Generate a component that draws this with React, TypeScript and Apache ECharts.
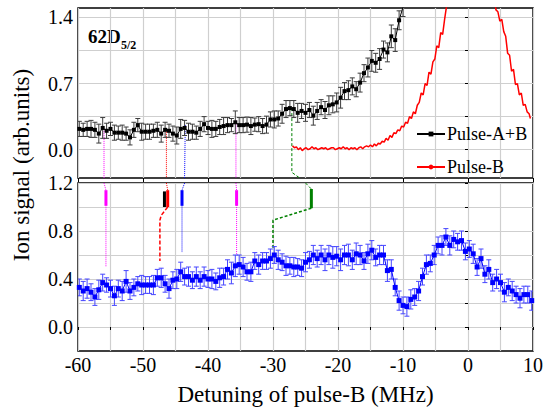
import React, { useEffect, useRef } from 'react';
import * as echarts from 'echarts';

const FONT = 'Liberation Serif';

// shared detuning grid (MHz) of the measured points
const X_START = -59.8;
const X_STEP = 0.6;

// top panel: Pulse-A+B (black)
const pulseABValues = [
  0.22, 0.21, 0.22, 0.22, 0.21, 0.17, 0.23, 0.20, 0.22, 0.18,
  0.18, 0.18, 0.17, 0.13, 0.21, 0.26, 0.19, 0.19, 0.19, 0.20,
  0.21, 0.17, 0.21, 0.20, 0.17, 0.15, 0.22, 0.23, 0.19, 0.19,
  0.18, 0.22, 0.27, 0.23, 0.22, 0.22, 0.24, 0.25, 0.26, 0.26,
  0.29, 0.26, 0.26,
  0.265, 0.25, 0.265, 0.27, 0.25, 0.265, 0.32, 0.32, 0.33, 0.38,
  0.43, 0.44, 0.43, 0.39, 0.41, 0.39, 0.42, 0.36, 0.41, 0.45,
  0.42, 0.47, 0.48, 0.50, 0.55, 0.62, 0.63, 0.67, 0.64, 0.71,
  0.81, 0.87, 0.94, 0.92, 0.96, 1.06, 1.03, 1.20, 1.16, 1.37, 1.51,
];
const pulseABErrors = [
  0.08, 0.07, 0.08, 0.09, 0.08, 0.10, 0.11, 0.08, 0.07, 0.08,
  0.07, 0.08, 0.07, 0.08, 0.08, 0.07, 0.09, 0.08, 0.08, 0.07,
  0.08, 0.09, 0.08, 0.07, 0.08, 0.09, 0.10, 0.08, 0.09, 0.08,
  0.07, 0.08, 0.08, 0.07, 0.09, 0.08, 0.08, 0.09, 0.08, 0.07,
  0.12, 0.08, 0.08,
  0.08, 0.09, 0.07, 0.08, 0.08, 0.09, 0.08, 0.09, 0.08, 0.10,
  0.09, 0.08, 0.09, 0.10, 0.08, 0.09, 0.08, 0.10, 0.09, 0.08,
  0.09, 0.10, 0.09, 0.10, 0.11, 0.09, 0.10, 0.09, 0.08, 0.10,
  0.09, 0.10, 0.11, 0.10, 0.11, 0.09, 0.10, 0.12, 0.12, 0.10, 0.10,
];

// top panel: Pulse-B (red)
const pulseBX = [
  -27.0, -26.7, -26.4, -26.1, -25.8, -25.5, -25.2, -24.9, -24.6, -24.3,
  -24.0, -23.7, -23.4, -23.1, -22.8, -22.5, -22.2, -21.9, -21.6, -21.3,
  -21.0, -20.7, -20.4, -20.1, -19.8, -19.5, -19.2, -18.9, -18.6, -18.3,
  -18.0, -17.7, -17.4, -17.1, -16.8, -16.5, -16.2, -15.9, -15.6, -15.3,
  -15.0, -14.7, -14.4, -14.1, -13.8, -13.5, -13.2, -12.9, -12.6, -12.3,
  -12.0, -11.7, -11.4, -11.1, -10.8, -10.5, -10.2, -9.9, -9.6, -9.3,
  -9.0, -8.7, -8.4, -8.1, -7.8, -7.5, -7.2, -6.9, -6.6, -6.3,
  -6.0, -5.7, -5.4, -5.1, -4.8, -4.5, -4.2, -3.9, -3.6, -3.3,
  -3.0, -2.0, 0.5, 3.0, 4.0, 4.3, 4.6, 4.9, 5.2, 5.5,
  5.8, 6.1, 6.4, 6.7, 7.0, 7.3, 7.6, 7.9, 8.2, 8.5,
  8.8, 9.1, 9.4, 9.6,
];
const pulseBY = [
  0.04, 0.02, 0.03, 0.00, 0.02, -0.01, 0.01, 0.02, 0.00, 0.01,
  0.03, 0.01, 0.02, 0.00, 0.01, 0.02, 0.01, 0.02, 0.00, 0.01,
  0.02, 0.02, 0.00, 0.01, 0.02, 0.01, 0.03, 0.01, 0.02, 0.00,
  0.02, 0.01, 0.02, 0.00, 0.02, 0.03, 0.01, 0.03, 0.04, 0.03,
  0.05, 0.03, 0.06, 0.04, 0.07, 0.06, 0.09, 0.08, 0.12, 0.10,
  0.15, 0.13, 0.18, 0.17, 0.21, 0.20, 0.25, 0.24, 0.29, 0.28,
  0.35, 0.33, 0.40, 0.38, 0.47, 0.50, 0.60, 0.58, 0.70, 0.68,
  0.82, 0.80, 0.93, 0.96, 1.10, 1.08, 1.24, 1.22, 1.38, 1.52,
  1.62, 2.20, 3.00, 2.20, 1.62, 1.48, 1.46, 1.36, 1.38, 1.25,
  1.20, 1.02, 1.00, 0.83, 0.85, 0.69, 0.70, 0.58, 0.60, 0.47,
  0.48, 0.40, 0.38, 0.33,
];

// bottom panel: ion signal (blue)
const ionValues = [
  0.33, 0.30, 0.32, 0.29, 0.25, 0.31, 0.37, 0.35, 0.32, 0.26,
  0.32, 0.30, 0.38, 0.30, 0.33, 0.36, 0.35, 0.35, 0.35, 0.35,
  0.41, 0.41, 0.36, 0.32, 0.39, 0.40, 0.46, 0.42, 0.42, 0.39,
  0.42, 0.39, 0.42, 0.40, 0.40, 0.38, 0.41, 0.42, 0.48, 0.45,
  0.51,
  0.52, 0.50, 0.46, 0.46, 0.55, 0.52, 0.55, 0.55, 0.57, 0.60,
  0.56, 0.54, 0.51, 0.51, 0.50, 0.50, 0.49, 0.54, 0.56, 0.60,
  0.57, 0.60, 0.56, 0.60, 0.58, 0.59, 0.56, 0.60, 0.60, 0.56,
  0.61, 0.60, 0.55, 0.61, 0.64, 0.58, 0.60, 0.60, 0.47,
  0.48, 0.33, 0.22, 0.18, 0.17, 0.23, 0.25, 0.30, 0.42, 0.52,
  0.53, 0.60, 0.68, 0.68, 0.75, 0.68, 0.73, 0.71, 0.72, 0.63,
  0.65, 0.61, 0.50, 0.57, 0.44, 0.48, 0.37, 0.40, 0.37, 0.29,
  0.33, 0.30, 0.27, 0.24, 0.27, 0.27, 0.22,
];
const ionErrors = [
  0.07, 0.08, 0.08, 0.07, 0.07, 0.08, 0.07, 0.06, 0.07, 0.08,
  0.07, 0.08, 0.09, 0.07, 0.07, 0.06, 0.08, 0.07, 0.07, 0.08,
  0.07, 0.08, 0.07, 0.08, 0.07, 0.08, 0.08, 0.07, 0.08, 0.07,
  0.08, 0.07, 0.08, 0.07, 0.08, 0.07, 0.08, 0.07, 0.08, 0.09,
  0.09, 0.08, 0.08, 0.07, 0.08, 0.07, 0.08, 0.07, 0.07, 0.08,
  0.07, 0.08, 0.07, 0.08, 0.07, 0.08, 0.07, 0.07, 0.08, 0.07,
  0.08, 0.07, 0.08, 0.09, 0.08, 0.09, 0.08, 0.09, 0.08, 0.09,
  0.08, 0.09, 0.08, 0.07, 0.08, 0.08, 0.07, 0.08, 0.08, 0.09,
  0.08, 0.07, 0.08, 0.07, 0.08, 0.08, 0.07, 0.08, 0.07, 0.08,
  0.07, 0.08, 0.07, 0.08, 0.07, 0.08, 0.07, 0.07, 0.08, 0.07,
  0.07, 0.08, 0.07, 0.08, 0.07, 0.08, 0.07, 0.08, 0.07, 0.08,
  0.07, 0.08, 0.07, 0.08, 0.07, 0.07, 0.08,
];

// axis ticks
const xTicks = [-60, -50, -40, -30, -20, -10, 0, 10];
const topYTicks = [0, 0.35, 0.7, 1.05, 1.4];
const topYLabels = [0, 0.7, 1.4];
const bottomYTicks = [0, 0.2, 0.4, 0.6, 0.8, 1.0, 1.2];
const bottomYLabels = [0, 0.4, 0.8, 1.2];

// annotation guides (data coordinates): top panel
const guideMagentaATop = [[-56.0, 0.22], [-56.0, -0.3]];
const guideRedTop = [[-46.4, 0.21], [-46.4, -0.3]];
const guideBlueTop = [[-43.5, 0.26], [-43.6, -0.3]];
const guideMagentaBTop = [[-35.7, 0.31], [-35.7, -0.3]];
const guideGreenTop = [[-27.1, 0.44], [-27.1, -0.24], [-25.9, -0.3]];
// bottom panel
const guideMagentaABottom = [[-56.0, 1.2], [-55.7, 1.14], [-55.7, 0.5]];
const guideRedBottom = [[-46.4, 1.2], [-46.2, 1.14]];
const guideRedBottomLow = [[-46.2, 1.0], [-47.2, 0.93], [-47.4, 0.89], [-47.4, 0.55]];
const guideBlueBottom = [[-43.6, 1.2], [-44.0, 1.14], [-44.0, 0.62]];
const guideMagentaBBottom = [[-35.7, 1.2], [-35.6, 1.14], [-35.6, 0.61]];
const guideGreenBottom = [[-25.0, 1.2], [-24.1, 1.15]];
const guideGreenBottomLow = [[-24.1, 0.99], [-30.0, 0.89], [-30.0, 0.66]];
// short thick bars
const barMagentaA = [[-55.7, 1.14], [-55.7, 1.01]];
const barBlack = [[-46.7, 1.13], [-46.7, 1.0]];
const barRed = [[-46.2, 1.14], [-46.2, 1.0]];
const barBlue = [[-44.0, 1.14], [-44.0, 1.01]];
const barMagentaB = [[-35.6, 1.14], [-35.6, 1.01]];
const barGreen = [[-24.1, 1.15], [-24.1, 0.99]];

function xsFor(n: number) {
  const out: number[] = [];
  for (let i = 0; i < n; i++) out.push(+(X_START + i * X_STEP).toFixed(2));
  return out;
}

function errorBars(xs: number[], ys: number[], errs: number[], idx: number, color: string) {
  return {
    type: 'custom',
    xAxisIndex: idx,
    yAxisIndex: idx,
    silent: true,
    clip: true,
    z: 2,
    data: xs.map((x, i) => [x, ys[i] - errs[i], ys[i] + errs[i]]),
    encode: { x: 0, y: [1, 2] },
    renderItem: (_p: any, api: any) => {
      const lo = api.coord([api.value(0), api.value(1)]);
      const hi = api.coord([api.value(0), api.value(2)]);
      const w = 2.5;
      const style = { stroke: color, lineWidth: 1 };
      return {
        type: 'group',
        children: [
          { type: 'line', shape: { x1: lo[0], y1: lo[1], x2: hi[0], y2: hi[1] }, style },
          { type: 'line', shape: { x1: lo[0] - w, y1: lo[1], x2: lo[0] + w, y2: lo[1] }, style },
          { type: 'line', shape: { x1: hi[0] - w, y1: hi[1], x2: hi[0] + w, y2: hi[1] }, style },
        ],
      };
    },
  };
}

function guide(data: number[][], idx: number, color: string, type: any, width = 1) {
  return {
    type: 'line',
    xAxisIndex: idx,
    yAxisIndex: idx,
    data,
    symbol: 'none',
    silent: true,
    clip: false,
    z: 1,
    lineStyle: { color, width, type },
  };
}

export default function App() {
  const ref = useRef<HTMLDivElement>(null);
  useEffect(() => {
    const chart = echarts.init(ref.current!, null, { renderer: 'svg' });
    const abX = xsFor(pulseABValues.length);
    const ionX = xsFor(ionValues.length);
    const grey = '#cfcfcf';
    const labelStyle = { fontFamily: FONT, fontSize: 20, color: '#000' };

    const option: any = {
      animation: false,
      backgroundColor: '#fff',
      textStyle: { fontFamily: FONT },
      grid: [
        { left: 78, top: 8, width: 455, height: 170, show: true, borderColor: '#000', borderWidth: 1.5, backgroundColor: 'transparent' },
        { left: 78, top: 183, width: 455, height: 168, show: true, borderColor: '#000', borderWidth: 1.5, backgroundColor: 'transparent' },
      ],
      xAxis: [
        {
          gridIndex: 0, type: 'value', min: -60, max: 10, interval: 5,
          axisLine: { show: false }, axisLabel: { show: false }, axisTick: { show: false },
          splitLine: { show: true, lineStyle: { color: grey, width: 1.2 } },
        },
        {
          gridIndex: 1, type: 'value', min: -60, max: 10, interval: 5,
          axisLine: { show: false },
          axisTick: { show: true, length: 3, lineStyle: { color: '#000' } },
          axisLabel: { ...labelStyle, margin: 4, formatter: (v: number) => (v % 10 === 0 ? String(v) : '') },
          splitLine: { show: true, lineStyle: { color: grey, width: 1.2 } },
          name: 'Detuning of pulse-B (MHz)', nameLocation: 'middle', nameGap: 32,
          nameTextStyle: { fontFamily: FONT, fontSize: 23, color: '#000' },
        },
        {
          gridIndex: 0, type: 'value', min: -60, max: 10, position: 'bottom',
          axisLine: { show: false }, axisLabel: { show: false }, splitLine: { show: false },
          axisTick: { show: true, length: 4, customValues: xTicks, lineStyle: { color: '#000' } },
        },
      ],
      yAxis: [
        {
          gridIndex: 0, type: 'value', min: -0.3, max: 1.5,
          axisLine: { show: false },
          axisTick: { show: true, length: 3, customValues: topYTicks, lineStyle: { color: '#000' } },
          axisLabel: { ...labelStyle, margin: 5, customValues: topYLabels, formatter: (v: number) => v.toFixed(1) },
          splitLine: { show: true, lineStyle: { color: grey, width: 1.2 } },
        },
        {
          gridIndex: 1, type: 'value', min: -0.2, max: 1.2,
          axisLine: { show: false },
          axisTick: { show: true, length: 3, customValues: bottomYTicks, lineStyle: { color: '#000' } },
          axisLabel: { ...labelStyle, margin: 5, customValues: bottomYLabels, formatter: (v: number) => v.toFixed(1) },
          splitLine: { show: true, lineStyle: { color: grey, width: 1.2 } },
        },
      ],
      legend: {
        data: ['Pulse-A+B', 'Pulse-B'],
        orient: 'vertical',
        left: 411,
        top: 120,
        itemWidth: 28,
        itemHeight: 6,
        itemGap: 15,
        textStyle: { fontFamily: FONT, fontSize: 18, color: '#000', padding: [0, 0, 0, -3] },
      },
      graphic: [
        { type: 'text', left: 88, top: 27, style: { text: '62D', fontFamily: FONT, fontWeight: 'bold', fontSize: 19, fill: '#000' } },
        { type: 'text', left: 121, top: 39, style: { text: '5/2', fontFamily: FONT, fontWeight: 'bold', fontSize: 12, fill: '#000' } },
        {
          type: 'text', x: 21, y: 165, rotation: Math.PI / 2,
          style: { text: 'Ion signal (arb.units)', fontFamily: FONT, fontSize: 23, fill: '#000', align: 'center', verticalAlign: 'middle' },
        },
      ],
      series: [
        guide(guideMagentaATop, 0, '#ff00ff', 'dotted'),
        guide(guideRedTop, 0, '#ff0000', 'dotted'),
        guide(guideBlueTop, 0, '#0000ff', 'dotted'),
        guide(guideMagentaBTop, 0, '#ff00ff', 'dotted'),
        guide(guideGreenTop, 0, '#008000', [3, 2]),
        guide(guideMagentaABottom, 1, '#ff00ff', 'dotted'),
        guide(guideRedBottom, 1, '#ff0000', 'dotted'),
        guide(guideRedBottomLow, 1, '#ff0000', [4, 2], 1.5),
        guide(guideBlueBottom, 1, '#0000ff', 'dotted'),
        guide(guideMagentaBBottom, 1, '#ff00ff', 'dotted'),
        guide(guideGreenBottom, 1, '#008000', [3, 2]),
        guide(guideGreenBottomLow, 1, '#008000', [3, 2], 1.5),
        guide(barMagentaA, 1, '#ff00ff', 'solid', 3),
        guide(barBlack, 1, '#000000', 'solid', 3),
        guide(barRed, 1, '#ff0000', 'solid', 3),
        guide(barBlue, 1, '#0000ff', 'solid', 3),
        guide(barMagentaB, 1, '#ff00ff', 'solid', 3),
        guide(barGreen, 1, '#008000', 'solid', 3),
        errorBars(abX, pulseABValues, pulseABErrors, 0, '#3c3c3c'),
        {
          name: 'Pulse-A+B', type: 'line', xAxisIndex: 0, yAxisIndex: 0,
          data: abX.map((x, i) => [x, pulseABValues[i]]),
          symbol: 'rect', symbolSize: 4, z: 3,
          itemStyle: { color: '#000' }, lineStyle: { color: '#000', width: 1 },
        },
        {
          name: 'Pulse-B', type: 'line', xAxisIndex: 0, yAxisIndex: 0,
          data: pulseBX.map((x, i) => [x, pulseBY[i]]),
          symbol: 'none', z: 3,
          itemStyle: { color: '#ff0000' }, lineStyle: { color: '#ff0000', width: 1.5 },
        },
        errorBars(ionX, ionValues, ionErrors, 1, '#4646ff'),
        {
          name: 'Ion', type: 'line', xAxisIndex: 1, yAxisIndex: 1,
          data: ionX.map((x, i) => [x, ionValues[i]]),
          symbol: 'rect', symbolSize: 5, z: 3,
          itemStyle: { color: '#0000ff' }, lineStyle: { color: '#0000ff', width: 1 },
        },
      ],
    };
    chart.setOption(option);
    return () => chart.dispose();
  }, []);
  return <div ref={ref} style={{ position: 'absolute', left: 0, top: 0, width: 554, height: 413 }} />;
}
